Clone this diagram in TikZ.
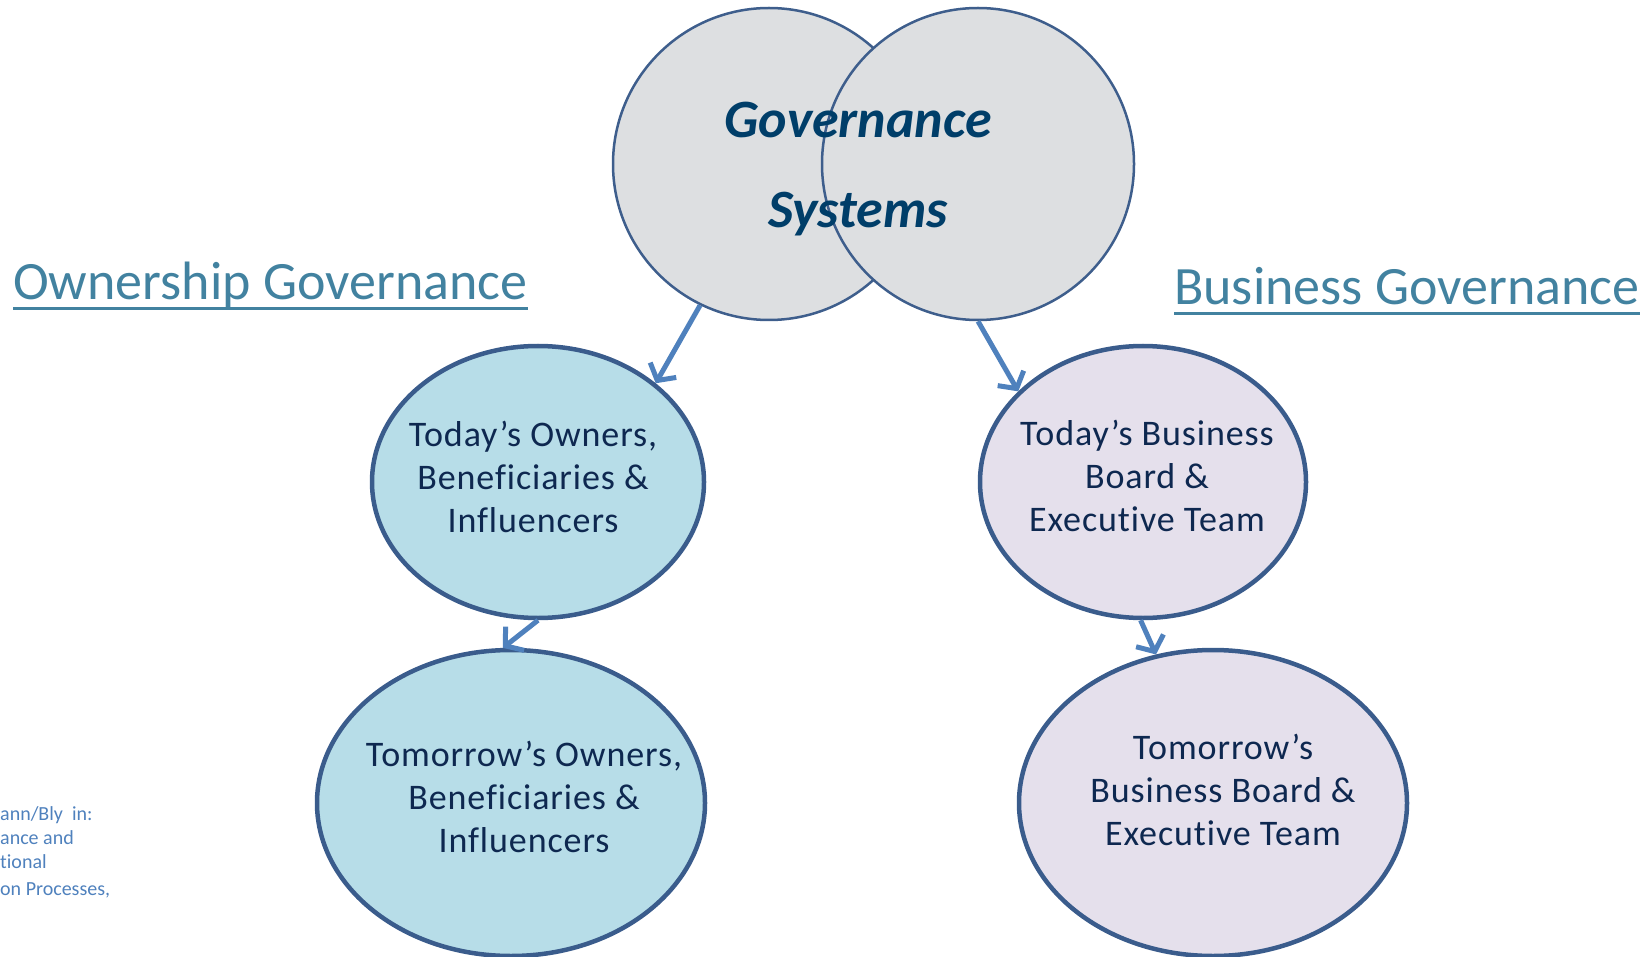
\documentclass[tikz,border=0pt]{standalone}
\usepackage{fontspec}
\setmainfont{Carlito}[Ligatures=NoCommon]
\newfontfamily\ovalfont{Carlito}[LetterSpace=2.5,Ligatures=NoCommon]
\usetikzlibrary{shapes.geometric,arrows.meta}
\definecolor{circfill}{RGB}{221,223,225}
\definecolor{circline}{RGB}{62,94,140}
\definecolor{bluefill}{RGB}{183,221,232}
\definecolor{lavfill}{RGB}{229,224,236}
\definecolor{elline}{RGB}{58,92,140}
\definecolor{navy}{RGB}{14,40,80}
\definecolor{govtext}{RGB}{0,62,105}
\definecolor{titlecol}{RGB}{66,130,160}
\definecolor{arrowcol}{RGB}{79,129,189}
\definecolor{citecol}{RGB}{79,129,189}
\begin{document}
\begin{tikzpicture}[x=1pt,y=-1pt,
 gcirc/.style={circle, draw=circline, line width=2.5pt, fill=circfill, minimum size=312pt, inner sep=0pt},
 oval/.style={ellipse, draw=elline, line width=4.5pt, inner sep=0pt},
 ovaltext/.style={align=center, text=navy, font=\ovalfont\fontsize{36}{43}\selectfont, inner sep=0pt},
 govstyle/.style={text=govtext, font=\fontsize{54}{60}\selectfont\bfseries\itshape, inner sep=0pt, anchor=base},
 titlestyle/.style={text=titlecol, font=\fontsize{54}{60}\selectfont, inner sep=0pt, anchor=base west},
 titleline/.style={draw=titlecol, line width=3pt},
 flow/.style={draw=arrowcol, line width=5pt, -{Straight Barb[length=12pt,width=30pt]}},
 cite/.style={text=citecol, font=\fontsize{20}{24}\selectfont, inner sep=0pt, anchor=base west}
]
\useasboundingbox (0,0) rectangle (1651,957);
\clip (0,0) rectangle (1651,957);
% governance circles
\node[gcirc] (gl) at (769,164) {};
\node[gcirc] (gr) at (978,164) {};
\node[govstyle] (gov1) at (858,138) {Governance};
\node[govstyle] (gov2) at (858,228) {Systems};
% titles
\node[titlestyle] (own) at (13,300) {Ownership Governance};
\draw[titleline] ([yshift=-9pt]own.base west) -- ([yshift=-9pt]own.base east);
\node[titlestyle] (bus) at (1174,305) {Business Governance};
\draw[titleline] ([yshift=-9pt]bus.base west) -- ([yshift=-9pt]bus.base east);
% ellipses
\node[oval, fill=bluefill, minimum width=332pt, minimum height=272pt] (to) at (538,482) {};
\node[oval, fill=bluefill, minimum width=388pt, minimum height=306pt] (tomo) at (511,803) {};
\node[oval, fill=lavfill, minimum width=326pt, minimum height=272pt] (tb) at (1143,482) {};
\node[oval, fill=lavfill, minimum width=388pt, minimum height=306pt] (tomb) at (1213,803) {};
\node[ovaltext] (toT) at (533,477) {Today’s Owners,\\Beneficiaries \&\\Influencers};
\node[ovaltext] (tomoT) at (524,797) {Tomorrow’s Owners,\\Beneficiaries \&\\Influencers};
\node[ovaltext] (tbT) at (1147,476) {Today’s Business\\Board \&\\Executive Team};
\node[ovaltext] (tombT) at (1223,790) {Tomorrow’s\\Business Board \&\\Executive Team};
% arrows
\draw[flow] (gl.244) -- (to.40);
\draw[flow] (gr.270) -- (tb.144);
\draw[flow] (to.270) -- (tomo.93);
\draw[flow] (tb.269) -- (tomb.111);
% citation fragment
\node[cite] (c1) at (0,820) {ann/Bly~~in:};
\node[cite] (c2) at (0,844) {ance and};
\node[cite] (c3) at (0,868) {tional};
\node[cite] (c4) at (0,895) {on Processes,};
\end{tikzpicture}
\end{document}
